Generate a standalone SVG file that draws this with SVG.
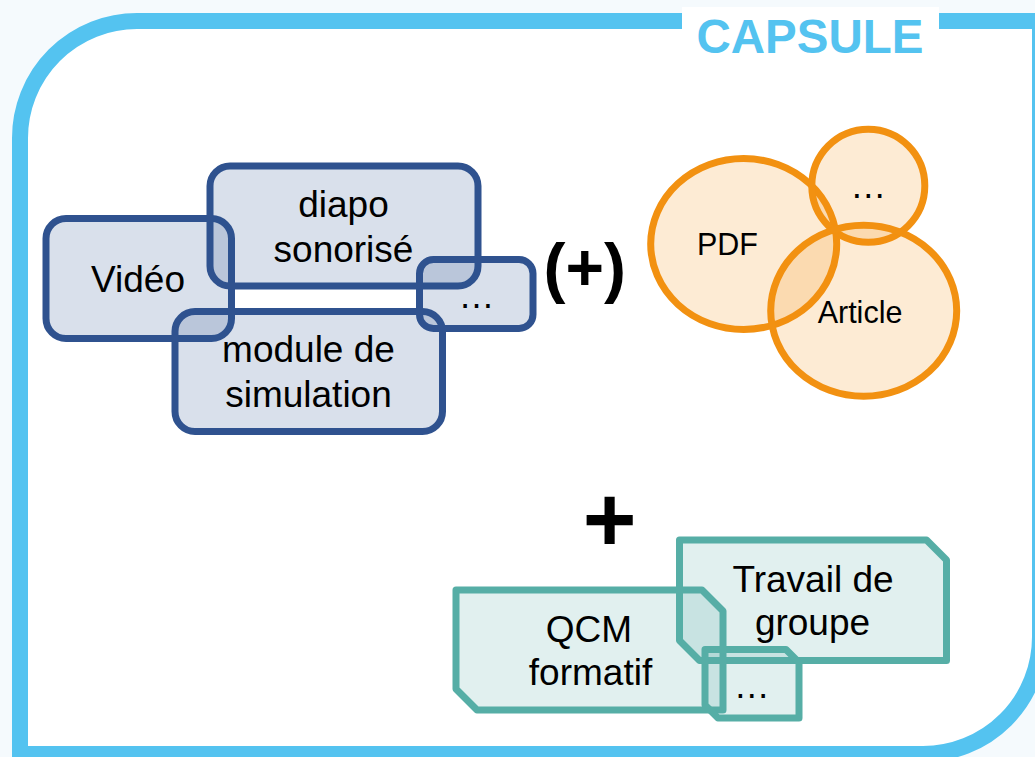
<svg xmlns="http://www.w3.org/2000/svg" width="1035" height="757" viewBox="0 0 1035 757">
  <style>
    text { font-family: "Liberation Sans", Arial, sans-serif; fill: #000; text-anchor: middle; }
    .blue { fill: rgba(47,82,143,0.18); stroke: #2f528f; stroke-width: 7; }
    .orange { fill: rgba(242,145,17,0.18); stroke: #f29111; stroke-width: 7; }
    .teal { fill: rgba(86,174,166,0.18); stroke: #56aea6; stroke-width: 7; stroke-linejoin: round; }
    .t36 { font-size: 37px; }
    .t30 { font-size: 30.5px; }
    .dots { font-size: 36px; }
  </style>
  <rect x="0" y="0" width="1035" height="757" fill="#f5fafd"/>
  <g id="frame">
    <path d="M 20,138 A 117 117 0 0 1 137,21 L 1040,21 L 1040,637 A 117 117 0 0 1 923,754 L 20,754 Z" fill="#ffffff" stroke="#54c3f0" stroke-width="16"/>
    <rect x="682" y="7" width="257" height="50" fill="#ffffff"/>
    <text x="810" y="53" style="font-size:47.5px;font-weight:bold;fill:#54c3f0">CAPSULE</text>
  </g>
  <g id="node-video">
    <rect class="blue" x="46" y="218.5" width="185.5" height="120" rx="20"/>
    <text class="t36" x="138" y="291.5">Vidéo</text>
  </g>
  <g id="node-diapo">
    <rect class="blue" x="210" y="166" width="268" height="120" rx="20"/>
    <text class="t36" x="343.5" y="216.5">diapo</text>
    <text class="t36" x="343.5" y="261.5">sonorisé</text>
  </g>
  <g id="node-module">
    <rect class="blue" x="175" y="311.5" width="267.5" height="120" rx="20"/>
    <text class="t36" x="308.5" y="361.5">module de</text>
    <text class="t36" x="308.5" y="406.5">simulation</text>
  </g>
  <g id="node-blue-more">
    <rect class="blue" x="419.5" y="259.5" width="113.5" height="69" rx="14"/>
    <text class="dots" x="476.5" y="308">…</text>
  </g>
  <g id="op-optional">
    <text x="584.7" y="289.5" style="font-size:66px;font-weight:bold">(+)</text>
  </g>
  <g id="node-pdf">
    <ellipse class="orange" cx="743.7" cy="244" rx="93" ry="85.5"/>
    <text class="t30" x="727.5" y="255">PDF</text>
  </g>
  <g id="node-orange-more">
    <circle class="orange" cx="868.3" cy="185.8" r="56.5"/>
    <text class="dots" x="868.3" y="198">…</text>
  </g>
  <g id="node-article">
    <ellipse class="orange" cx="863.7" cy="310.8" rx="93" ry="85.5"/>
    <text class="t30" x="860" y="323.3">Article</text>
  </g>
  <g id="op-plus">
    <text x="609.5" y="551" style="font-size:92px;font-weight:bold">+</text>
  </g>
  <g id="node-qcm">
    <polygon class="teal" points="456,590 702,590 723,611 723,710 477,710 456,689"/>
    <text class="t36" x="589" y="641.5">QCM</text>
    <text class="t36" x="590.5" y="685">formatif</text>
  </g>
  <g id="node-travail">
    <polygon class="teal" points="679.5,540 926.5,540 946.5,560 946.5,660.5 699.5,660.5 679.5,640.5"/>
    <text class="t36" x="813" y="591.5">Travail de</text>
    <text class="t36" x="812.5" y="635">groupe</text>
  </g>
  <g id="node-teal-more">
    <polygon class="teal" points="705,649.5 786,649.5 799,662.5 799,718 718,718 705,705"/>
    <text class="dots" x="751.7" y="698">…</text>
  </g>
  <g id="connectors"></g>
</svg>
